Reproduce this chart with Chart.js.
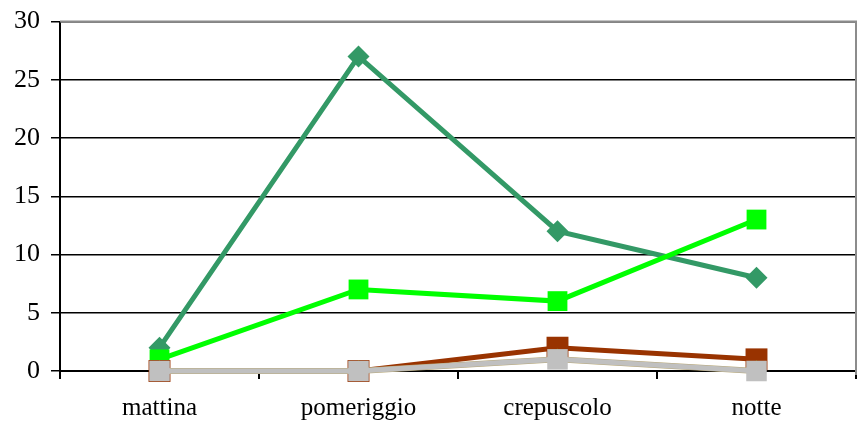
<!DOCTYPE html>
<html>
<head>
<meta charset="utf-8">
<script src="https://cdn.jsdelivr.net/npm/chart.js@4.4.1/dist/chart.umd.min.js"></script>
<style>
  html, body { margin: 0; padding: 0; background: #ffffff; }
  #wrap { width: 861px; height: 427px; position: relative; }
</style>
</head>
<body>
<div id="wrap"><canvas id="c" width="861" height="427"></canvas></div>
<script>
const categories = ["mattina", "pomeriggio", "crepuscolo", "notte"];
const yTicks = [0, 5, 10, 15, 20, 25, 30];
const serieVerdeScuro = [2, 27, 12, 8];
const serieVerde = [1, 7, 6, 13];
const serieMarrone = [0, 0, 2, 1];
const serieOliva = [0, 0, 1, 0];
const serieGrigio = [0, 0, 1, 0];

const frame = {
  id: 'frame',
  afterDraw(chart) {
    const a = chart.chartArea, ctx = chart.ctx;
    ctx.save();
    ctx.strokeStyle = '#8c8c8c';
    ctx.lineWidth = 2;
    ctx.beginPath();
    ctx.moveTo(a.left, a.top);
    ctx.lineTo(a.right, a.top);
    ctx.lineTo(a.right, a.bottom + 4);
    ctx.stroke();
    ctx.restore();
  }
};

new Chart(document.getElementById('c'), {
  type: 'line',
  data: {
    labels: categories,
    datasets: [
      { data: serieVerdeScuro, borderColor: '#339966', backgroundColor: '#339966', borderWidth: 5,
        pointStyle: 'rectRot', pointRadius: 11, pointBorderWidth: 0, order: 5 },
      { data: serieVerde, borderColor: '#00ff00', backgroundColor: '#00ff00', borderWidth: 5,
        pointStyle: 'rect', pointRadius: 14, pointBorderWidth: 0, order: 4 },
      { data: serieMarrone, borderColor: '#993300', backgroundColor: '#993300', borderWidth: 5,
        pointStyle: 'rect', pointRadius: 15.5, pointBorderWidth: 0, order: 3 },
      { data: serieOliva, borderColor: '#b8a878', backgroundColor: '#808000', borderWidth: 6,
        pointStyle: 'triangle', pointRadius: 11, pointBorderWidth: 0, order: 2 },
      { data: serieGrigio, borderColor: '#c0c0c0', backgroundColor: '#c0c0c0', borderWidth: 5,
        pointStyle: 'rect', pointRadius: 14.5, pointBorderWidth: 0, order: 1 }
    ]
  },
  options: {
    responsive: false,
    animation: false,
    clip: false,
    layout: { autoPadding: false, padding: { top: 21.5, right: 5, left: 0, bottom: 0 } },
    plugins: { legend: { display: false }, tooltip: { enabled: false } },
    elements: { line: { tension: 0 } },
    scales: {
      x: {
        offset: true,
        grid: { offset: true, drawOnChartArea: false, drawTicks: true, tickLength: 8, color: '#000', lineWidth: 2 },
        border: { color: '#000', width: 2 },
        ticks: { color: '#000', padding: 14, font: { family: 'Liberation Serif', size: 25 }, maxRotation: 0 },
        afterFit(s) { s.height = 56; }
      },
      y: {
        min: 0, max: 30,
        afterBuildTicks(s) { s.ticks = yTicks.map(v => ({ value: v })); },
        grid: { color: '#000', lineWidth: 1.5, tickLength: 9 },
        border: { color: '#000', width: 2 },
        ticks: { color: '#000', padding: 11, font: { family: 'Liberation Serif', size: 26, lineHeight: 0.4 } },
        afterFit(s) { s.width = 60; }
      }
    }
  },
  plugins: [frame]
});
</script>
</body>
</html>
